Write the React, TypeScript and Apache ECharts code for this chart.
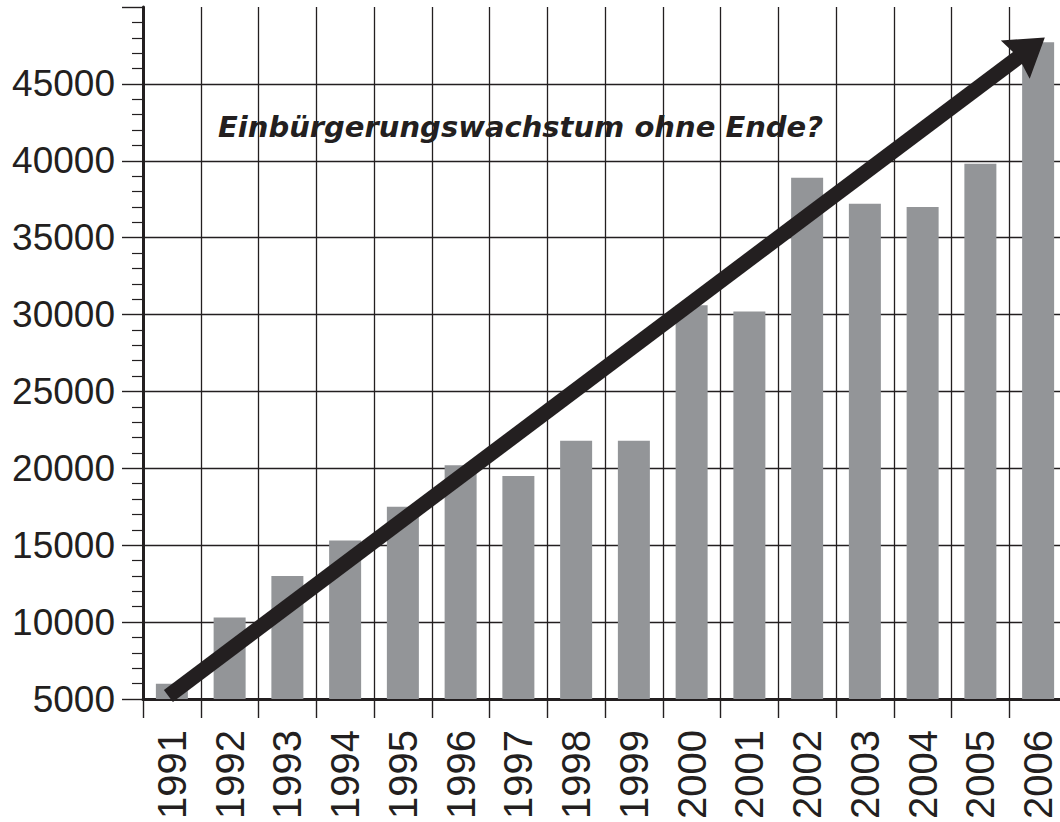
import React, { useEffect, useRef } from "react";
import * as echarts from "echarts";

const years = ["1991", "1992", "1993", "1994", "1995", "1996", "1997", "1998", "1999", "2000", "2001", "2002", "2003", "2004", "2005", "2006"];
const values = [6000, 10300, 13000, 15300, 17500, 20200, 19500, 21800, 21800, 30600, 30200, 38900, 37200, 37000, 39800, 47700];
const yMin = 5000;
const yMax = 50000;
const yInterval = 5000;
// arrow ends in (year index, value) units
const arrowStart = [-0.06, 5200];
const arrowEnd = [14.86, 47300];
const annotation = "Einbürgerungswachstum ohne Ende?";

const INK = "#231f20";
const BAR = "#939598";

export default function App() {
  const ref = useRef<HTMLDivElement>(null);
  useEffect(() => {
    if (!ref.current) return;
    const chart = echarts.init(ref.current, null, { renderer: "svg" });
    chart.setOption({
      animation: false,
      backgroundColor: "#ffffff",
      grid: { left: 143, right: 0, top: 7, bottom: 119 },
      xAxis: [
        {
          type: "category",
          data: years,
          boundaryGap: true,
          axisLine: { show: true, onZero: false, lineStyle: { color: INK, width: 3 } },
          axisTick: { show: true, length: 19, lineStyle: { color: INK, width: 1.4 } },
          splitLine: { show: true, lineStyle: { color: INK, width: 1.3 } },
          axisLabel: {
            rotate: 90,
            margin: 31,
            fontSize: 40,
            color: INK,
            fontFamily: "Liberation Sans",
          },
        },
        {
          type: "value",
          show: false,
          min: -0.5,
          max: years.length - 0.5,
          position: "bottom",
          axisLine: { onZero: false },
          splitLine: { show: false },
        },
      ],
      yAxis: {
        type: "value",
        min: yMin,
        max: yMax,
        interval: yInterval,
        axisLine: { show: true, onZero: false, lineStyle: { color: INK, width: 3 } },
        axisTick: { show: true, length: 21, lineStyle: { color: INK, width: 1.4 } },
        minorTick: { show: true, splitNumber: 5, length: 11, lineStyle: { color: INK, width: 1.2 } },
        splitLine: { show: true, showMaxLine: false, lineStyle: { color: INK, width: 1.3 } },
        axisLabel: {
          showMaxLabel: false,
          margin: 28,
          fontSize: 37,
          color: INK,
          fontFamily: "Liberation Sans",
          padding: [0, 0, 6, 0],
          formatter: (v: number) => String(v),
        },
      },
      series: [
        {
          type: "bar",
          data: values,
          barWidth: 32,
          itemStyle: { color: BAR },
        },
        {
          type: "line",
          xAxisIndex: 1,
          data: [],
          z: 5,
          markLine: {
            silent: true,
            symbol: ["none", "path://M24,0 L48,37 L24,33 L0,37 Z"],
            symbolSize: [48, 37],
            label: { show: false },
            lineStyle: { color: INK, width: 15, type: "solid", cap: "butt" },
            itemStyle: { color: INK },
            data: [[{ coord: arrowStart }, { coord: arrowEnd }]],
          },
        },
      ],
      graphic: [
        {
          type: "text",
          x: 218,
          y: 127,
          z: 100,
          style: {
            text: annotation,
            font: 'italic bold 29px "DejaVu Sans"',
            fill: INK,
            verticalAlign: "middle",
            textVerticalAlign: "middle",
          },
        },
      ],
    });
    return () => chart.dispose();
  }, []);
  return (
    <div style={{ position: "fixed", left: 0, top: 0, width: 1060, height: 822, overflow: "hidden", background: "#fff" }}>
      <div ref={ref} style={{ width: 1067, height: 822 }} />
    </div>
  );
}
